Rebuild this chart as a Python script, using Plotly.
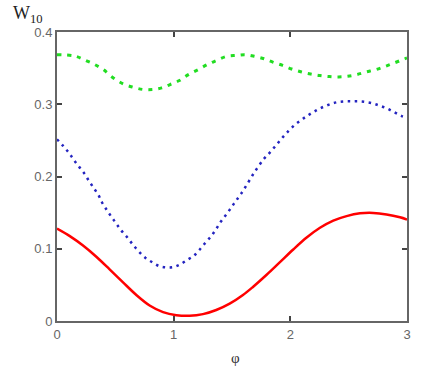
import plotly.graph_objects as go

# Red solid curve
phi_red = [0.0, 0.11, 0.223, 0.337, 0.451, 0.566, 0.68, 0.794, 0.909, 1.023, 1.137, 1.251, 1.365,
           1.48, 1.594, 1.682, 1.797, 1.911, 2.025, 2.14, 2.254, 2.368, 2.482, 2.597, 2.711, 2.825, 2.94, 3.0]
w_red = [0.128, 0.1175, 0.1045, 0.089, 0.0715, 0.0535, 0.036, 0.0215, 0.0123, 0.0081, 0.0072, 0.0095, 0.0152,
         0.024, 0.036, 0.0475, 0.064, 0.0815, 0.099, 0.1155, 0.129, 0.139, 0.1452, 0.149, 0.1496, 0.1475, 0.1435, 0.1405]

# Blue dotted curve
phi_blue = [0.0, 0.054, 0.106, 0.146, 0.192, 0.235, 0.275, 0.315, 0.355, 0.384, 0.421, 0.461, 0.504, 0.547,
            0.598, 0.644, 0.693, 0.756, 0.813, 0.876, 0.936, 0.999, 1.056, 1.119, 1.176, 1.222, 1.274, 1.325,
            1.365, 1.405, 1.448, 1.494, 1.534, 1.577, 1.617, 1.688, 1.774, 1.826, 1.877, 1.928, 1.985, 2.042,
            2.108, 2.165, 2.228, 2.285, 2.348, 2.405, 2.47, 2.53, 2.59, 2.65, 2.71, 2.765, 2.83, 2.89, 2.955, 3.0]
w_blue = [0.2515, 0.242, 0.232, 0.2226, 0.213, 0.204, 0.1937, 0.184, 0.1744, 0.1647, 0.155, 0.1455, 0.1358, 0.126,
          0.1165, 0.107, 0.0977, 0.0876, 0.0816, 0.076, 0.0742, 0.0747, 0.0784, 0.0848, 0.0908, 0.0986, 0.1087, 0.118,
          0.1275, 0.1376, 0.1468, 0.157, 0.1665, 0.176, 0.186, 0.2047, 0.2245, 0.2335, 0.243, 0.253, 0.263, 0.272,
          0.28, 0.286, 0.292, 0.2965, 0.3005, 0.303, 0.304, 0.304, 0.304, 0.303, 0.301, 0.298, 0.294, 0.289, 0.2836, 0.281]

# Green dashed curve
phi_green = [0.0, 0.154, 0.254, 0.326, 0.397, 0.483, 0.569, 0.654, 0.74, 0.826, 0.897, 0.969, 1.049, 1.126,
             1.211, 1.297, 1.369, 1.454, 1.54, 1.611, 1.697, 1.774, 1.854, 1.934, 2.011, 2.097, 2.174, 2.254,
             2.334, 2.414, 2.491, 2.568, 2.648, 2.734, 2.814, 2.888, 2.974, 3.0]
w_green = [0.3686, 0.3667, 0.36, 0.3548, 0.348, 0.3364, 0.328, 0.3235, 0.3204, 0.3204, 0.3226, 0.3273, 0.3328, 0.341,
           0.348, 0.3557, 0.3607, 0.3662, 0.3676, 0.3686, 0.3662, 0.363, 0.358, 0.3538, 0.3488, 0.3446, 0.3419, 0.3397,
           0.3383, 0.3378, 0.3387, 0.341, 0.3446, 0.348, 0.3525, 0.357, 0.3625, 0.364]

x_ticks = [0, 1, 2, 3]
y_ticks = [0, 0.1, 0.2, 0.3, 0.4]
y_tick_labels = ["0", "0.1", "0.2", "0.3", "0.4"]

W, H = 442, 376
ML, MR, MT, MB = 57, 35, 32, 55
PW, PH = W - ML - MR, H - MT - MB


def px_x(px):
    return (px - ML) / PW


def px_y(py):
    return (H - MB - py) / PH


fig = go.Figure()
fig.add_trace(go.Scatter(x=phi_green, y=w_green, mode="lines",
                         line=dict(color="#22dd22", width=3, dash="4px,6px", shape="spline")))
fig.add_trace(go.Scatter(x=phi_blue, y=w_blue, mode="lines",
                         line=dict(color="#2424c0", width=2.5, dash="2.5px,4.5px", shape="spline")))
fig.add_trace(go.Scatter(x=phi_red, y=w_red, mode="lines",
                         line=dict(color="#ff0000", width=2.5, shape="spline")))

axis_common = dict(showgrid=False, zeroline=False, showline=True, linecolor="#666666", linewidth=2,
                   mirror="allticks", ticks="inside", ticklen=5, tickcolor="#444444", tickwidth=1.5,
                   tickfont=dict(family="Liberation Sans, Arial", size=13, color="#666666"))

fig.update_xaxes(range=[0, 3], tickvals=x_ticks, ticktext=[str(t) for t in x_ticks], **axis_common)
fig.update_yaxes(range=[0, 0.4], tickvals=y_ticks, ticktext=y_tick_labels, **axis_common)

fig.update_layout(
    width=W, height=H,
    margin=dict(l=ML, r=MR, t=MT, b=MB),
    paper_bgcolor="white", plot_bgcolor="white",
    showlegend=False,
    annotations=[
        dict(text="W<sub>10</sub>", x=px_x(11), y=px_y(1), xref="paper", yref="paper", showarrow=False,
             xanchor="left", yanchor="top",
             font=dict(family="Liberation Serif, Times New Roman", size=18, color="#222222")),
        dict(text="φ", x=px_x(235), y=px_y(358), xref="paper", yref="paper", showarrow=False,
             xanchor="center", yanchor="middle",
             font=dict(family="Liberation Serif, DejaVu Serif", size=15, color="#333333")),
    ],
)

fig.write_html("out.html", config={"displayModeBar": False},
               post_script="document.body.style.margin='0px';")
